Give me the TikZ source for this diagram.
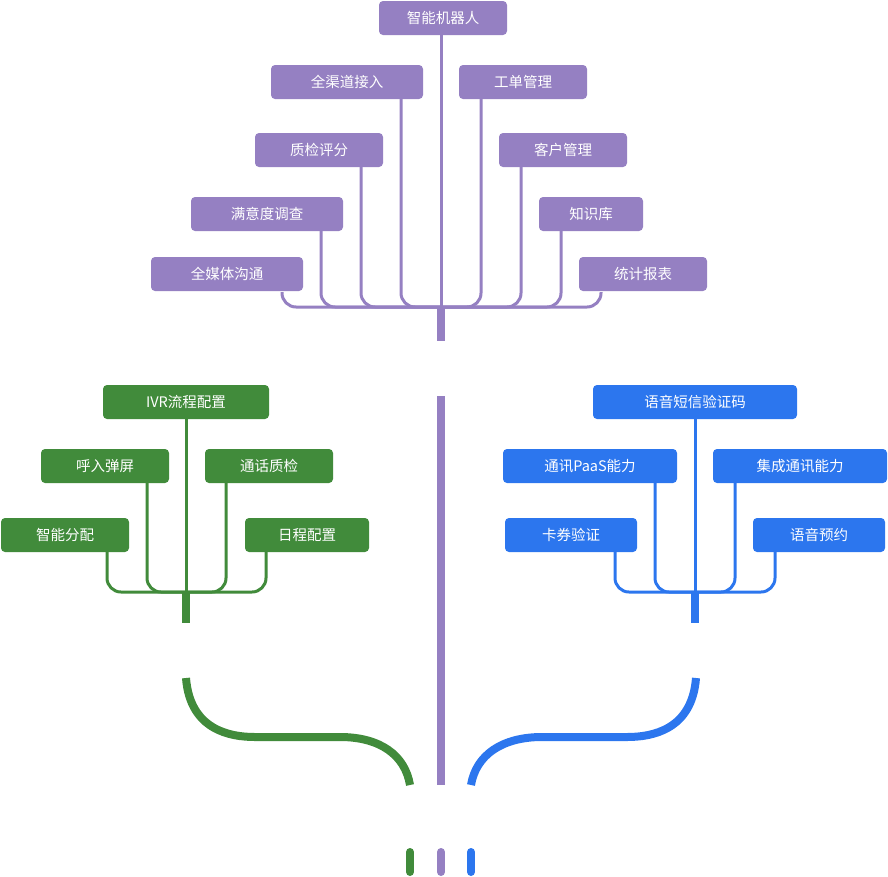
\documentclass[tikz,border=0pt]{standalone}
\usepackage{fontspec}
\setmainfont{Noto Sans CJK SC}
\definecolor{pu}{HTML}{9580C2}
\definecolor{gr}{HTML}{418B3B}
\definecolor{bl}{HTML}{2C76EE}
\tikzset{
  box/.style={rounded corners=4pt,text=white,font=\fontsize{14.5pt}{16pt}\selectfont,inner sep=0pt,minimum height=34pt},
  pbox/.style={box,fill=pu},
  gbox/.style={box,fill=gr},
  bbox/.style={box,fill=bl},
  thin/.style={line width=3pt,rounded corners=14pt},
  thick/.style={line width=8pt},
}
\begin{document}
\begin{tikzpicture}[x=1pt,y=-1pt]
\useasboundingbox (0,0) rectangle (888,876);
% purple tree
\begin{scope}[pu]
\draw[thin] (441,30) -- (441,308);
\foreach \x/\t in {282/292,321/230,361/165,401/95}{
  \draw[thin] (\x,\t) -- (\x,307) -- (441,307);}
\foreach \x/\t in {601/292,561/230,521/165,481/95}{
  \draw[thin] (\x,\t) -- (\x,307) -- (441,307);}
\draw[thick] (441,306) -- (441,341);
\draw[thick] (441,396) -- (441,785);
\end{scope}
\node[pbox,minimum width=128pt] (robot) at (443,18) {智能机器人};
\node[pbox,minimum width=152pt] (qqd) at (347,82) {全渠道接入};
\node[pbox,minimum width=128pt] (gd) at (523,82) {工单管理};
\node[pbox,minimum width=128pt] (zj) at (319,150) {质检评分};
\node[pbox,minimum width=128pt] (kh) at (563,150) {客户管理};
\node[pbox,minimum width=152pt] (myd) at (267,214) {满意度调查};
\node[pbox,minimum width=104pt] (zsk) at (591,214) {知识库};
\node[pbox,minimum width=152pt] (qmt) at (227,274) {全媒体沟通};
\node[pbox,minimum width=128pt] (tj) at (643,274) {统计报表};
% green tree
\begin{scope}[gr]
\draw[thin] (186,415) -- (186,593);
\foreach \x/\t in {107/548,147/480}{
  \draw[thin] (\x,\t) -- (\x,592) -- (186,592);}
\foreach \x/\t in {266/548,226/480}{
  \draw[thin] (\x,\t) -- (\x,592) -- (186,592);}
\draw[thick] (186,591) -- (186,623);
\draw[thick] (186,678) .. controls (190,730) and (230,737) .. (255,737) -- (340,737) .. controls (380,737) and (405,755) .. (410,785);
\draw[thick,line cap=round] (410,852) -- (410,872);
\end{scope}
\node[gbox,minimum width=166pt] (ivr) at (186,402) {IVR流程配置};
\node[gbox,minimum width=128pt] (hr) at (105,466) {呼入弹屏};
\node[gbox,minimum width=128pt] (thzj) at (269,466) {通话质检};
\node[gbox,minimum width=128pt] (zn) at (65,535) {智能分配};
\node[gbox,minimum width=124pt] (rc) at (307,535) {日程配置};
% blue tree
\begin{scope}[bl]
\draw[thin] (695,415) -- (695,593);
\foreach \x/\t in {615/548,655/480}{
  \draw[thin] (\x,\t) -- (\x,592) -- (695,592);}
\foreach \x/\t in {775/548,735/480}{
  \draw[thin] (\x,\t) -- (\x,592) -- (695,592);}
\draw[thick] (695,591) -- (695,623);
\draw[thick] (696,678) .. controls (692,730) and (652,737) .. (627,737) -- (542,737) .. controls (502,737) and (476,755) .. (471,785);
\draw[thick,line cap=round] (471,852) -- (471,872);
\end{scope}
\draw[pu,thick,line cap=round] (441,852) -- (441,872);
\node[bbox,minimum width=204pt] (yy) at (695,402) {语音短信验证码};
\node[bbox,minimum width=174pt] (paas) at (590,466) {通讯PaaS能力};
\node[bbox,minimum width=174pt] (jc) at (800,466) {集成通讯能力};
\node[bbox,minimum width=132pt] (kq) at (571,535) {卡券验证};
\node[bbox,minimum width=132pt] (yyy) at (819,535) {语音预约};
\end{tikzpicture}
\end{document}
